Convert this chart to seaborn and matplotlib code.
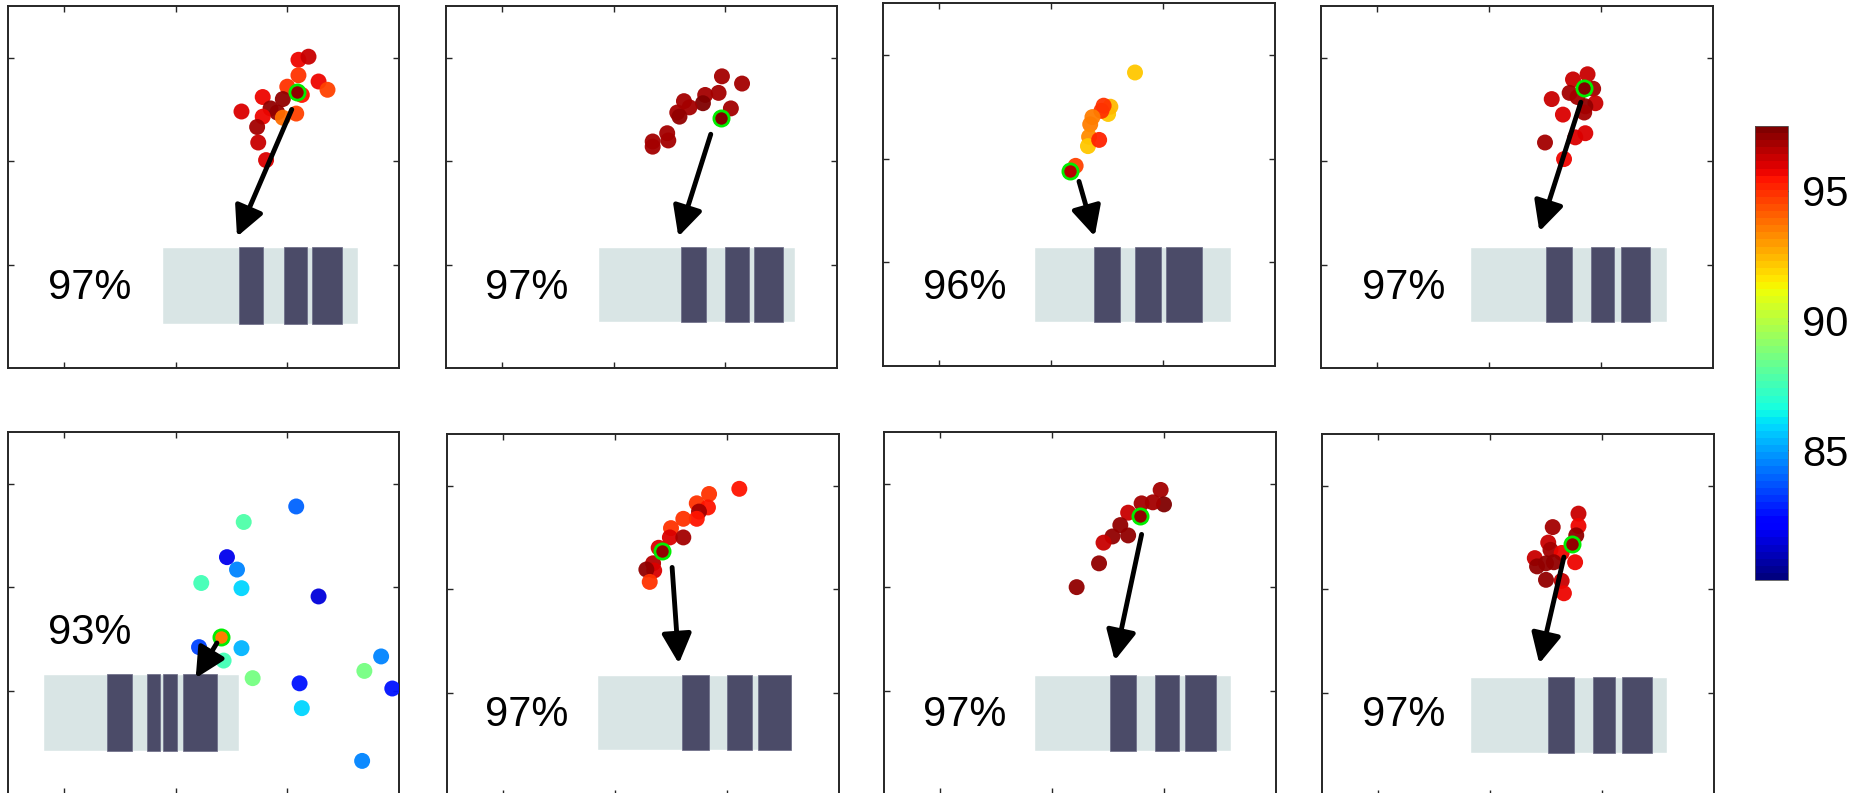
import numpy as np
import matplotlib
matplotlib.use("Agg")
import matplotlib.pyplot as plt
import seaborn as sns

# accuracy (%) of each point in every panel, and their positions
points_x = [
    [3.10, 3.19, 3.10, 3.28, 3.36, 3.00, 3.13, 2.78, 2.96, 2.85, 2.91, 3.08, 2.96, 2.59, 2.78, 2.73, 2.74, 2.81],
    [2.97, 3.15, 2.94, 2.82, 2.80, 2.63, 2.68, 2.57, 2.59, 3.05, 2.48, 2.49, 2.35, 2.35],
    [2.75, 2.51, 2.53, 2.47, 2.45, 2.37, 2.35, 2.34, 2.33, 2.43, 2.22],
    [2.88, 2.75, 2.93, 2.72, 2.79, 2.95, 2.86, 2.85, 2.56, 2.66, 2.86, 2.77, 2.50, 2.67],
    [3.08, 2.61, 2.46, 2.55, 2.23, 2.59, 3.28, 2.21, 2.59, 2.43, 2.69, 3.11, 3.13, 3.84, 3.69, 3.94, 3.67],
    [3.11, 2.84, 2.73, 2.83, 2.75, 2.73, 2.61, 2.50, 2.49, 2.61, 2.39, 2.34, 2.35, 2.28, 2.31],
    [2.97, 3.00, 2.80, 2.90, 2.68, 2.61, 2.68, 2.54, 2.46, 2.42, 2.22],
    [2.79, 2.79, 2.77, 2.56, 2.52, 2.54, 2.64, 2.40, 2.42, 2.50, 2.57, 2.76, 2.50, 2.64, 2.66],
]
points_y = [
    [2.98, 3.01, 2.83, 2.77, 2.69, 2.72, 2.64, 2.62, 2.60, 2.51, 2.47, 2.46, 2.42, 2.48, 2.43, 2.33, 2.18, 2.01],
    [2.82, 2.75, 2.66, 2.64, 2.56, 2.58, 2.52, 2.47, 2.43, 2.51, 2.27, 2.20, 2.19, 2.14],
    [2.83, 2.43, 2.50, 2.51, 2.46, 2.40, 2.33, 2.21, 2.12, 2.18, 1.93],
    [2.84, 2.79, 2.70, 2.66, 2.62, 2.56, 2.53, 2.47, 2.60, 2.45, 2.27, 2.23, 2.18, 2.02],
    [2.78, 2.63, 2.29, 2.17, 2.04, 1.99, 1.91, 1.42, 1.41, 1.29, 1.12, 1.07, 0.83, 1.33, 1.19, 1.02, 0.32],
    [2.97, 2.92, 2.83, 2.79, 2.75, 2.68, 2.68, 2.59, 2.50, 2.50, 2.40, 2.25, 2.18, 2.19, 2.07],
    [2.94, 2.80, 2.81, 2.82, 2.72, 2.60, 2.50, 2.49, 2.43, 2.23, 2.00],
    [2.73, 2.61, 2.52, 2.60, 2.45, 2.38, 2.35, 2.30, 2.22, 2.25, 2.26, 2.26, 2.09, 2.08, 1.96],
]
points_acc = [
    [95.8, 96.4, 94.8, 95.6, 94.6, 94.8, 95.5, 95.7, 97.0, 97.2, 97.0, 94.7, 93.8, 96.1, 95.6, 96.9, 96.2, 95.9],
    [96.7, 96.7, 96.7, 96.7, 97.3, 96.7, 96.7, 96.7, 97.0, 96.7, 96.7, 96.7, 96.7, 96.7],
    [92.3, 92.3, 92.5, 94.8, 95.0, 93.5, 93.6, 93.3, 92.3, 95.2, 94.6],
    [96.4, 96.4, 96.7, 96.7, 96.7, 96.4, 97.2, 96.7, 96.4, 96.1, 96.1, 96.1, 96.7, 95.7],
    [83.9, 87.8, 81.7, 84.4, 87.5, 86.0, 81.6, 83.5, 85.2, 87.5, 88.6, 82.5, 86.0, 84.4, 88.6, 82.5, 84.4],
    [95.5, 95.0, 95.0, 95.4, 96.8, 95.4, 95.0, 95.0, 96.0, 96.8, 96.0, 96.5, 96.0, 97.1, 95.0],
    [96.7, 97.5, 96.7, 96.7, 96.4, 97.0, 97.2, 97.0, 96.4, 97.0, 97.0],
    [96.2, 95.7, 97.2, 96.7, 96.2, 96.7, 95.7, 96.4, 97.0, 97.0, 97.0, 95.7, 97.0, 96.4, 95.7],
]

# highlighted point (green ring)
hl_x = [3.09, 2.96, 2.17, 2.85, 2.41, 2.42, 2.79, 2.73]
hl_y = [2.67, 2.42, 1.88, 2.71, 1.52, 2.37, 2.69, 2.44]
hl_acc = [97.2, 97.3, 96.5, 97.3, 93.6, 97.1, 97.2, 97.2]

# arrow from highlighted point to the strip
arrow_from = [(3.04, 2.50), (2.87, 2.26), (2.25, 1.78), (2.82, 2.57),
              (2.37, 1.46), (2.51, 2.21), (2.80, 2.51), (2.66, 2.31)]
arrow_to = [(2.55, 1.27), (2.58, 1.27), (2.39, 1.25), (2.45, 1.32),
            (2.18, 1.12), (2.57, 1.28), (2.56, 1.29), (2.44, 1.28)]

# strip: background span (x0, x1, y0, y1) and dark segments
strip_span = [(1.88, 3.63, 0.43, 1.17), (1.86, 3.62, 0.44, 1.17), (1.85, 3.61, 0.42, 1.15),
              (1.83, 3.59, 0.44, 1.17), (0.81, 2.57, 0.42, 1.16), (1.84, 3.58, 0.44, 1.17),
              (1.84, 3.60, 0.42, 1.15), (1.82, 3.58, 0.42, 1.15)]
strip_segments = [
    [(2.57, 2.78), (2.97, 3.18), (3.22, 3.49)],
    [(2.60, 2.83), (3.00, 3.21), (3.26, 3.52)],
    [(2.38, 2.62), (2.75, 2.98), (3.03, 3.35)],
    [(2.51, 2.74), (2.91, 3.12), (3.18, 3.44)],
    [(1.39, 1.61), (1.74, 1.86), (1.89, 2.01), (2.07, 2.37)],
    [(2.60, 2.84), (3.00, 3.22), (3.28, 3.57)],
    [(2.52, 2.75), (2.92, 3.13), (3.19, 3.46)],
    [(2.52, 2.75), (2.92, 3.12), (3.18, 3.45)],
]

labels = ["97%", "97%", "96%", "97%", "93%", "97%", "97%", "97%"]
label_x = [0.86, 0.85, 0.86, 0.87, 0.86, 0.84, 0.85, 0.86]
label_y = [0.67, 0.67, 0.65, 0.67, 1.45, 0.68, 0.66, 0.68]

cbar_ticks = [85, 90, 95]
acc_range = (80, 97.5)

sns.set_theme(style="white")
plt.rcParams["font.family"] = ["Liberation Sans", "DejaVu Sans"]
plt.rcParams["text.color"] = "black"
plt.rcParams["xtick.color"] = "black"
plt.rcParams["ytick.color"] = "black"

W, H = 1854, 793
fig = plt.figure(figsize=(W / 100, H / 100), dpi=100)

# panel boxes in pixels: left, top, width, height
boxes = [(8, 6, 391, 362), (446, 6, 391, 362), (883, 3, 392, 363), (1321, 6, 392, 362),
         (8, 432, 391, 362), (447, 434, 392, 362), (884, 432, 392, 362), (1322, 434, 392, 362)]

cmap = plt.get_cmap("jet", 64)
norm = matplotlib.colors.Normalize(*acc_range)

for i, (l, t, w, h) in enumerate(boxes):
    ax = fig.add_axes([l / W, 1 - (t + h) / H, w / W, h / H])
    ax.set_xlim(0.5, 4.0)
    ax.set_ylim(0, 3.5)

    x0, x1, y0, y1 = strip_span[i]
    ax.broken_barh([(x0, x1 - x0)], (y0, y1 - y0), facecolors="#d9e5e5", zorder=1)
    ax.broken_barh([(a, b - a) for a, b in strip_segments[i]], (y0, y1 - y0),
                   facecolors="#4b4b68", edgecolor="#6a6a85", linewidth=0.5, zorder=2)

    sns.scatterplot(x=points_x[i], y=points_y[i], hue=points_acc[i], palette=cmap,
                    hue_norm=acc_range, s=132, linewidth=0, alpha=0.95,
                    legend=False, ax=ax, zorder=3)
    ax.scatter(hl_x[i], hl_y[i], s=120, c=[cmap(norm(hl_acc[i]))],
               edgecolors="#00ee00", linewidths=2, zorder=4)

    ax.annotate("", xy=arrow_to[i], xytext=arrow_from[i],
                arrowprops=dict(arrowstyle="-|>,head_length=0.6,head_width=0.3",
                                mutation_scale=30, lw=3.5, color="black",
                                shrinkA=0, shrinkB=0), zorder=5)

    ax.text(label_x[i], label_y[i], labels[i], fontsize=30, color="black",
            ha="left", va="baseline")

    ax.set_xticks([1, 2, 3])
    ax.set_yticks([1, 2, 3])
    ax.tick_params(direction="in", top=True, right=True, bottom=True, left=True,
                   labelbottom=False, labelleft=False, length=4, width=1, color="#262626")
    for sp in ax.spines.values():
        sp.set_visible(True)
        sp.set_color("#262626")
        sp.set_linewidth(1.4)
    ax.set_xlabel("")
    ax.set_ylabel("")

cax = fig.add_axes([1755 / W, 1 - 580 / H, 33 / W, 454 / H])
sm = matplotlib.cm.ScalarMappable(norm=norm, cmap=cmap)
cb = fig.colorbar(sm, cax=cax, ticks=cbar_ticks)
cb.outline.set_linewidth(0.6)
cb.outline.set_edgecolor("#555555")
cax.tick_params(direction="in", labelsize=30, labelcolor="black", length=4, width=0.8, pad=10)

fig.savefig("out.png", dpi=100)
